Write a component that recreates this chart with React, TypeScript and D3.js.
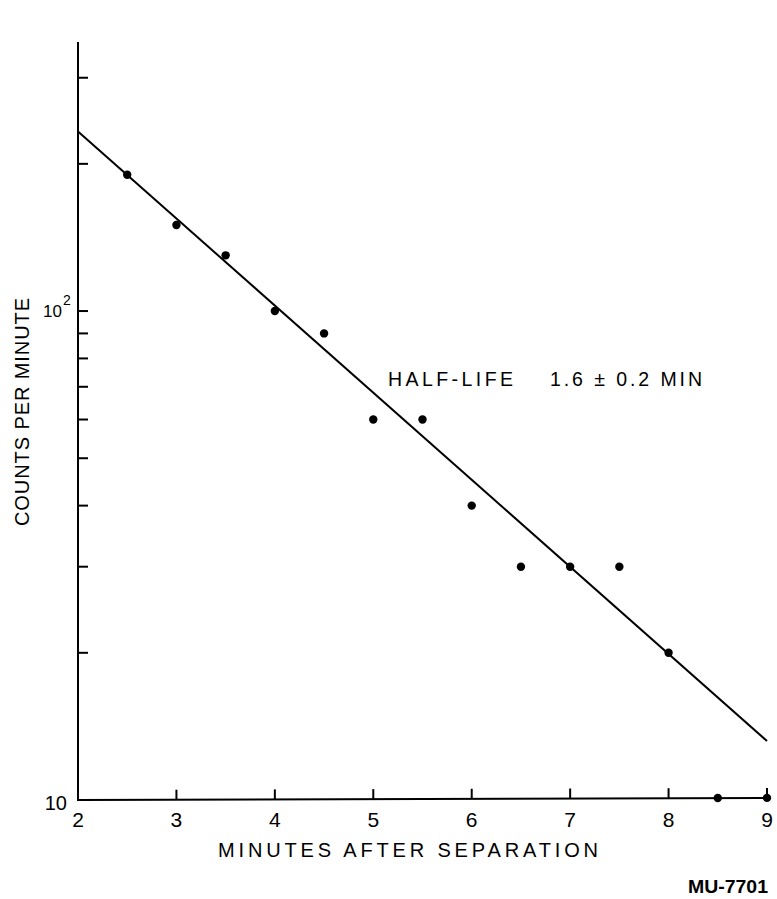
import React from "react";
import * as d3 from "d3";

// minutes after separation / counts per minute
const minutes = [2.5, 3, 3.5, 4, 4.5, 5, 5.5, 6, 6.5, 7, 7.5, 8, 8.5, 9];
const counts = [190, 150, 130, 100, 90, 60, 60, 40, 30, 30, 30, 20, 10, 10];

// fitted decay line, ends of the drawn segment
const fitMinutes = [2, 9];
const fitCounts = [233, 13.2];

const xTicks = [2, 3, 4, 5, 6, 7, 8, 9];
const yTicks = [20, 30, 40, 50, 60, 70, 80, 90, 100, 200, 300];

const WIDTH = 777;
const HEIGHT = 899;
const FONT = "'Liberation Sans', Arial, sans-serif";

const App = () => {
    const x = d3.scaleLinear().domain([2, 9]).range([78, 767]);
    const y = d3.scaleLog().domain([10, 355]).range([800, 42]);

    // the bottom axis in the scan leans up slightly to the right
    const tilt = (m: number) => (m - 2) * 0.3;

    const line = d3
        .line<number>()
        .x((d) => x(d))
        .y((d, i) => y(fitCounts[i]));

    return (
        <svg
            width={WIDTH}
            height={HEIGHT}
            style={{position: "absolute", left: 0, top: 0, background: "#fff"}}
        >
            {/* axes */}
            <g stroke="#000" strokeWidth={2} fill="none">
                <line x1={x(2)} x2={x(2)} y1={y(355)} y2={y(10)} />
                <line x1={x(2) - 1} x2={x(9)} y1={y(10)} y2={y(10) - tilt(9)} />
                {yTicks.map((t) => (
                    <line key={t} x1={x(2)} x2={x(2) + 10} y1={y(t)} y2={y(t)} />
                ))}
                {xTicks.slice(1).map((t) => (
                    <line key={t} x1={x(t)} x2={x(t)} y1={y(10) - tilt(t)} y2={y(10) - 10 - tilt(t)} />
                ))}
            </g>

            {/* fit */}
            <path d={line(fitMinutes) || ""} stroke="#000" strokeWidth={2} fill="none" />

            {/* points */}
            {minutes.map((m, i) => (
                <circle key={i} cx={x(m)} cy={y(counts[i]) - (counts[i] === 10 ? tilt(m) : 0)} r={4.2} fill="#000" />
            ))}

            <g fontFamily={FONT} fill="#000">
                {/* x tick labels */}
                {xTicks.map((t) => (
                    <text key={t} x={x(t)} y={827} fontSize={21} textAnchor="middle">
                        {t}
                    </text>
                ))}
                {/* y labels */}
                <text x={67} y={810} fontSize={20} textAnchor="end">10</text>
                <text x={62} y={317} fontSize={17} textAnchor="end">10</text>
                <text x={63} y={305} fontSize={14}>2</text>

                <text
                    x={408}
                    y={857}
                    fontSize={20}
                    textAnchor="middle"
                    textLength={380}
                    lengthAdjust="spacing"
                >
                    MINUTES  AFTER  SEPARATION
                </text>
                <text
                    transform="translate(29,412) rotate(-90)"
                    fontSize={20}
                    textAnchor="middle"
                    textLength={228}
                    lengthAdjust="spacing"
                >
                    COUNTS  PER  MINUTE
                </text>

                <text x={388} y={386} fontSize={19.5} textLength={125} lengthAdjust="spacing">
                    HALF-LIFE
                </text>
                <text x={550} y={386} fontSize={19.5} textLength={152} lengthAdjust="spacing">
                    1.6 ± 0.2  MIN
                </text>

                <text x={688} y={893} fontSize={18} fontWeight="bold" textLength={80} lengthAdjust="spacingAndGlyphs">
                    MU-7701
                </text>
            </g>
        </svg>
    );
};

export default App;
